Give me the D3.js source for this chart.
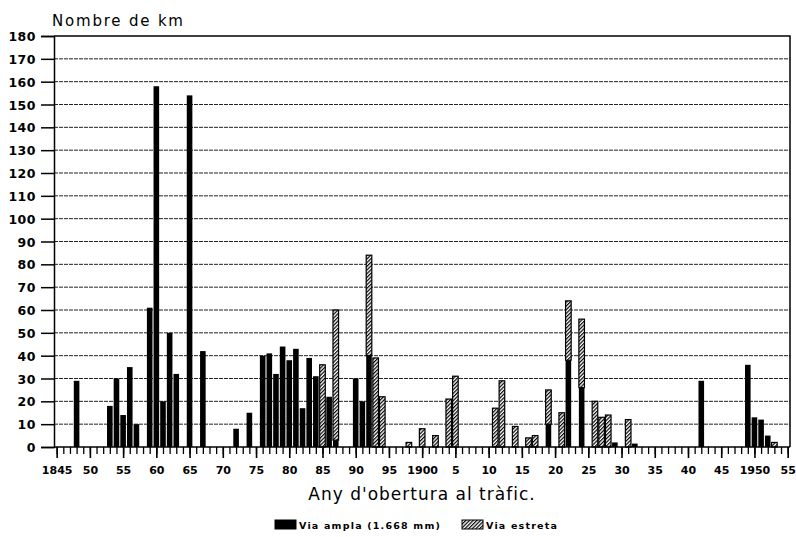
<!DOCTYPE html>
<html lang="ca">
<head>
	<meta charset="UTF-8">
	<title>Nombre de km</title>
	<style>
		body { margin: 0; background: #fff; }
		text { font-family: "DejaVu Sans", sans-serif; fill: #000; }
	</style>
</head>
<body>
	<script src="https://cdn.jsdelivr.net/npm/d3@7"></script>

	<script type="text/javascript">

		// years with any opening, and km per type of gauge
		var years   = [1848, 1853, 1854, 1855, 1856, 1857, 1859, 1860, 1861, 1862, 1863, 1865, 1867,
		               1872, 1874, 1876, 1877, 1878, 1879, 1880, 1881, 1882, 1883, 1884, 1885, 1886, 1887,
		               1890, 1891, 1892, 1893, 1894, 1898, 1900, 1902, 1904, 1905, 1911, 1912, 1914, 1916,
		               1917, 1919, 1921, 1922, 1924, 1926, 1927, 1928, 1929, 1931, 1932, 1942, 1949, 1950,
		               1951, 1952, 1953];
		var ampla   = [29, 18, 30, 14, 35, 10, 61, 158, 20, 50, 32, 154, 42,
		               8, 15, 40, 41, 32, 44, 38, 43, 17, 39, 31, 0, 22, 3,
		               30, 20, 40, 0, 0, 0, 0, 0, 0, 0, 0, 0, 0, 0,
		               0, 10, 0, 38, 26, 0, 0, 0, 2, 0, 1.5, 29, 36, 13,
		               12, 5, 0];
		var estreta = [0, 0, 0, 0, 0, 0, 0, 0, 0, 0, 0, 0, 0,
		               0, 0, 0, 0, 0, 0, 0, 0, 0, 0, 0, 36, 0, 57,
		               0, 0, 44, 39, 22, 2, 8, 5, 21, 31, 17, 29, 9, 4,
		               5, 15, 15, 26, 30, 20, 13, 14, 0, 12, 0, 0, 0, 0,
		               0, 0, 2];

		var yTicks = d3.range(0, 181, 10);
		var xMajor = d3.range(1845, 1956, 5);
		var xLabels = ["1845", "50", "55", "60", "65", "70", "75", "80", "85", "90", "95", "1900",
		               "5", "10", "15", "20", "25", "30", "35", "40", "45", "1950", "55"];
		var seriesNames = ["Via ampla (1.668 mm)", "Via estreta"];

		var width = 796;
		var height = 537;

		var svg = d3.select("body")
					.append("svg")
					.attr("width", width)
					.attr("height", height);

		// hatch for narrow gauge
		var pat = svg.append("defs")
					.append("pattern")
					.attr("id", "hatch")
					.attr("patternUnits", "userSpaceOnUse")
					.attr("width", 2.6)
					.attr("height", 2.6)
					.attr("patternTransform", "rotate(-45)");
		pat.append("rect").attr("width", 2.6).attr("height", 2.6).attr("fill", "#fff");
		pat.append("line")
			.attr("x1", 0).attr("y1", 0).attr("x2", 2.6).attr("y2", 0)
			.attr("stroke", "#000").attr("stroke-width", 2.4);

		var pLeft = 54, pRight = 790, pTop = 36, pBottom = 447;

		var x = d3.scaleLinear()
				.domain([1844.6, 1955.35])
				.range([pLeft, pRight]);

		var y = d3.scaleLinear()
				.domain([0, 180])
				.range([pBottom, pTop]);

		// grid lines
		svg.append("g")
			.selectAll("line")
			.data(yTicks.filter(function(d) { return d > 0 && d < 180; }))
			.enter()
			.append("line")
			.attr("x1", pLeft)
			.attr("x2", pRight)
			.attr("y1", function(d) { return y(d); })
			.attr("y2", function(d) { return y(d); })
			.attr("stroke", "#222")
			.attr("stroke-width", 1)
			.attr("stroke-dasharray", "4,1");

		// frame top and right
		svg.append("path")
			.attr("d", "M" + pLeft + "," + pTop + "H" + pRight + "V" + pBottom)
			.attr("fill", "none")
			.attr("stroke", "#000")
			.attr("stroke-width", 1.5);

		// stacked bars
		var table = years.map(function(d, i) {
			return { year: d, ampla: ampla[i], estreta: estreta[i] };
		});
		var stack = d3.stack().keys(["ampla", "estreta"])(table);
		var barW = 5.6;

		svg.append("g")
			.selectAll("g")
			.data(stack)
			.enter()
			.append("g")
			.attr("fill", function(s) { return s.key === "ampla" ? "#000" : "url(#hatch)"; })
			.attr("stroke", "#000")
			.attr("stroke-width", function(s) { return s.key === "ampla" ? 0 : 1.2; })
			.selectAll("rect")
			.data(function(s) { return s.filter(function(d) { return d[1] > d[0]; }); })
			.enter()
			.append("rect")
			.attr("x", function(d) { return x(d.data.year) - barW / 2; })
			.attr("y", function(d) { return y(d[1]); })
			.attr("width", barW)
			.attr("height", function(d) { return y(d[0]) - y(d[1]); });

		// y axis
		var yAxis = svg.append("g")
			.attr("transform", "translate(" + pLeft + ",0)")
			.call(d3.axisLeft(y).tickValues(yTicks).tickSize(13).tickPadding(5));
		yAxis.select(".domain").attr("stroke-width", 1.5);
		yAxis.selectAll(".tick line").attr("stroke-width", 1.5);
		yAxis.selectAll("text")
			.style("font-size", "12.5px")
			.style("font-weight", "bold")
			.style("letter-spacing", "0.5px")
			.attr("dy", "0.36em");

		// x axis: minor ticks every year, major every five
		var xMinor = svg.append("g")
			.attr("transform", "translate(0," + pBottom + ")")
			.call(d3.axisBottom(x).tickValues(d3.range(1845, 1956)).tickSize(7).tickFormat(""));
		xMinor.selectAll(".tick line").attr("stroke-width", 1.3);
		xMinor.select(".domain").attr("d", "M" + pLeft + ",0H" + pRight).attr("stroke-width", 1.5);

		var xAxis = svg.append("g")
			.attr("transform", "translate(0," + pBottom + ")")
			.call(d3.axisBottom(x).tickValues(xMajor).tickSize(11).tickPadding(8)
				.tickFormat(function(d, i) { return xLabels[i]; }));
		xAxis.select(".domain").remove();
		xAxis.selectAll(".tick line").attr("stroke-width", 1.6);
		xAxis.selectAll("text")
			.style("font-size", "11px")
			.style("font-weight", "bold");

		// titles
		svg.append("text")
			.attr("x", 52)
			.attr("y", 26)
			.style("font-size", "15px")
			.style("letter-spacing", "1.8px")
			.text("Nombre de km");

		svg.append("text")
			.attr("x", 422)
			.attr("y", 500)
			.attr("text-anchor", "middle")
			.style("font-size", "17px")
			.style("letter-spacing", "1px")
			.text("Any d'obertura al tràfic.");

		// legend
		var legend = svg.append("g");
		var legX = [275, 462];
		legend.selectAll("rect")
			.data(seriesNames)
			.enter()
			.append("rect")
			.attr("x", function(d, i) { return legX[i]; })
			.attr("y", 520)
			.attr("width", 21)
			.attr("height", 9)
			.attr("fill", function(d, i) { return i === 0 ? "#000" : "url(#hatch)"; })
			.attr("stroke", "#000")
			.attr("stroke-width", 1);
		legend.selectAll("text")
			.data(seriesNames)
			.enter()
			.append("text")
			.attr("x", function(d, i) { return legX[i] + 24; })
			.attr("y", 529)
			.style("font-size", "9.5px")
			.style("font-weight", "bold")
			.style("letter-spacing", "1.2px")
			.text(function(d) { return d; });

	</script>
</body>
</html>
